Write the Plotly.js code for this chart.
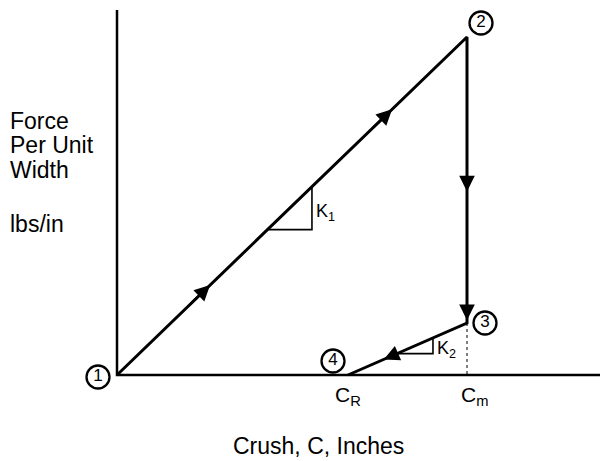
<!DOCTYPE html>
<html>
<head>
<meta charset="utf-8">
<script src="https://cdn.plot.ly/plotly-3.0.1.min.js"></script>
<style>html,body{margin:0;padding:0;background:#fff;}#chart{width:605px;height:461px;}</style>
</head>
<body>
<div id="chart"></div>
<script>
// ---- data (crush in arbitrary inch units, force per unit width) ----
const pointLabels = ['1', '2', '3', '4'];
const crush = [0, 3.5, 3.5, 2.31];      // C at points 1..4
const force = [0, 3.38, 0.52, 0];       // F at points 1..4
const axisCrushMax = 4.83;
const axisForceMax = 3.65;
const yTitleLines = ['Force', 'Per Unit', 'Width', '', 'lbs/in'];
const xTitle = 'Crush, C, Inches';
const crushMarks = ['C<sub>R</sub>', 'C<sub>m</sub>'];
const slopeLabels = ['K<sub>1</sub>', 'K<sub>2</sub>'];
// arrowheads: [segment index, fraction along segment where the tip sits]
const arrowAt = [[0, 0.266], [0, 0.786], [1, 0.54], [1, 0.99], [2, 0.70]];
// slope triangles: [segment index, fraction start, fraction end]
const slopeTri = [[0, 0.43, 0.557], [2, 0.286, 0.588]];

// ---- helpers ----
const W = 605, H = 461;
const xr = [-1.17, 4.88], yr = [-0.86, 3.75];
const px = v => v / W;
const py = v => 1 - v / H;
const du = 100; // px per data unit
const FONT = 'Liberation Sans, Arial, Helvetica, sans-serif';
function along(seg, f) {
  const x0 = crush[seg], y0 = force[seg], x1 = crush[seg + 1], y1 = force[seg + 1];
  return [x0 + (x1 - x0) * f, y0 + (y1 - y0) * f];
}

const traces = [];
// axes
traces.push({x: [0, 0, axisCrushMax], y: [axisForceMax, 0, 0], mode: 'lines',
  line: {color: '#000', width: 2.5}, hoverinfo: 'skip'});
// main path
traces.push({x: crush, y: force, mode: 'lines', line: {color: '#000', width: 3}, hoverinfo: 'skip'});
// dashed drop from point 3 to Cm
traces.push({x: [crush[2], crush[2]], y: [force[2], 0], mode: 'lines',
  line: {color: '#000', width: 1, dash: '3px,3px'}, hoverinfo: 'skip'});
// slope triangles
slopeTri.forEach(([s, a, b]) => {
  const p = along(s, a), q = along(s, b);
  const lowY = Math.min(p[1], q[1]);
  const hiX = Math.max(p[0], q[0]);
  const lowPt = p[1] < q[1] ? p : q;
  traces.push({x: [lowPt[0], hiX, hiX], y: [lowY, lowY, Math.max(p[1], q[1])], mode: 'lines',
    line: {color: '#000', width: 1.6}, hoverinfo: 'skip'});
});
// circled point labels
const offs = [[-19, -2], [14, 14], [18, 0], [-15, 14]];
traces.push({
  x: crush.map((c, i) => c + offs[i][0] / du),
  y: force.map((f, i) => f + offs[i][1] / du),
  mode: 'markers+text', text: pointLabels, textposition: 'middle center',
  textfont: {family: FONT, size: 17, color: '#000'},
  marker: {symbol: 'circle-open', size: 23, color: '#000', line: {width: 2.3, color: '#000'}},
  hoverinfo: 'skip'
});

const ann = [];
// arrowheads
arrowAt.forEach(([s, f]) => {
  const tip = along(s, f);
  const tail = along(s, f - 0.06 * (s === 2 ? 2 : 1));
  ann.push({x: tip[0], y: tip[1], ax: tail[0], ay: tail[1], xref: 'x', yref: 'y', axref: 'x', ayref: 'y',
    text: '', showarrow: true, arrowhead: 2, arrowsize: 1.25, arrowwidth: 2.5, arrowcolor: '#000', standoff: 0});
});
const fnt = (s) => ({family: FONT, size: s, color: '#000'});
// y title lines
const yTops = [121, 145, 170, 0, 224];
yTitleLines.forEach((t, i) => {
  if (!t) return;
  ann.push({x: px(8), y: py(yTops[i]), xref: 'paper', yref: 'paper', text: t, showarrow: false,
    xanchor: 'left', yanchor: 'middle', font: fnt(23)});
});
// x title
ann.push({x: px(318), y: py(446), xref: 'paper', yref: 'paper', text: xTitle, showarrow: false,
  xanchor: 'center', yanchor: 'middle', font: fnt(23)});
// crush marks
ann.push({x: crush[3], y: 0, xref: 'x', yref: 'y', yshift: -21, xshift: 0, text: crushMarks[0], showarrow: false,
  xanchor: 'center', yanchor: 'middle', font: fnt(21)});
ann.push({x: crush[2], y: 0, xref: 'x', yref: 'y', yshift: -21, xshift: 7, text: crushMarks[1], showarrow: false,
  xanchor: 'center', yanchor: 'middle', font: fnt(21)});
// slope labels
slopeTri.forEach(([s, a, b], i) => {
  const p = along(s, a), q = along(s, b);
  const hiX = Math.max(p[0], q[0]);
  const midY = (p[1] + q[1]) / 2;
  ann.push({x: hiX, y: midY, xref: 'x', yref: 'y', xshift: 2, yshift: -4, text: slopeLabels[i], showarrow: false,
    xanchor: 'left', yanchor: 'middle', font: fnt(18)});
});

const layout = {
  width: W, height: H, margin: {l: 0, r: 0, t: 0, b: 0},
  paper_bgcolor: '#fff', plot_bgcolor: '#fff', showlegend: false,
  xaxis: {range: xr, visible: false, fixedrange: true},
  yaxis: {range: yr, visible: false, fixedrange: true},
  annotations: ann
};
Plotly.newPlot('chart', traces, layout, {staticPlot: true, displayModeBar: false});
</script>
</body>
</html>
